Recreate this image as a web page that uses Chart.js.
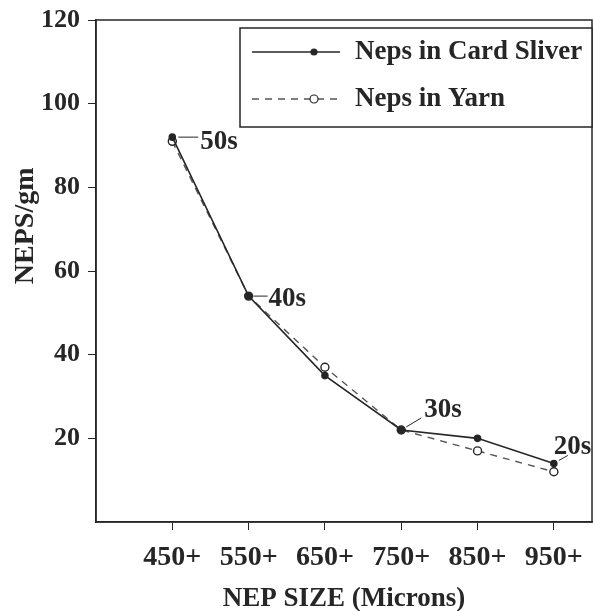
<!DOCTYPE html>
<html>
<head>
<meta charset="utf-8">
<script src="https://cdn.jsdelivr.net/npm/chart.js@4.4.1/dist/chart.umd.min.js"></script>
<style>
  html, body { margin: 0; padding: 0; background: #fff; }
  #wrap { width: 593px; height: 611px; position: relative; }
</style>
</head>
<body>
<div id="wrap"><canvas id="chart" width="593" height="611"></canvas></div>
<script>
  'use strict';

  // nep size classes (microns) and counts per gram
  const nepSizes = [450, 550, 650, 750, 850, 950];
  const cardSliver = [92, 54, 35, 22, 20, 14];
  const yarn = [91, 54, 37, 22, 17, 12];
  const countLabels = ['50s', '40s', null, '30s', null, '20s'];
  const yTicks = [20, 40, 60, 80, 100, 120];

  const INK = '#262626';
  const FONT = "'Liberation Serif', 'Times New Roman', serif";

  // frame round the plot area, plus the y title (sits above centre in the original)
  const framePlugin = {
    id: 'frame',
    afterDraw(chart) {
      const { ctx, chartArea: a } = chart;
      ctx.save();
      ctx.strokeStyle = INK;
      ctx.lineWidth = 1.5;
      ctx.strokeRect(a.left, a.top, a.right - a.left, a.bottom - a.top);
      ctx.translate(26, a.top + (a.bottom - a.top) * 0.41);
      ctx.rotate(-Math.PI / 2);
      ctx.font = 'bold 28px ' + FONT;
      ctx.fillStyle = INK;
      ctx.textAlign = 'center';
      ctx.textBaseline = 'middle';
      ctx.fillText('NEPS/gm', 0, 0);
      ctx.restore();
    }
  };

  // "50s", "40s" ... next to the card sliver points
  const countLabelPlugin = {
    id: 'countLabels',
    afterDatasetsDraw(chart) {
      const { ctx, scales: { x, y } } = chart;
      const offs = {
        '50s': { l: [[6, 0], [26, 0]], tx: 28, ty: 5 },
        '40s': { l: [[5, 0], [19, 0]], tx: 20, ty: 3 },
        '30s': { l: [[5, -3], [20, -12]], tx: 23, ty: -20 },
        '20s': { l: [[5, -3], [14, -8]], tx: 0, ty: -16 }
      };
      ctx.save();
      ctx.font = 'bold 27px ' + FONT;
      ctx.fillStyle = INK;
      ctx.strokeStyle = INK;
      ctx.lineWidth = 1;
      ctx.textBaseline = 'middle';
      ctx.textAlign = 'left';
      countLabels.forEach((lab, i) => {
        if (!lab) return;
        const px = x.getPixelForValue(nepSizes[i]);
        const py = y.getPixelForValue(cardSliver[i]);
        const o = offs[lab];
        ctx.beginPath();
        ctx.moveTo(px + o.l[0][0], py + o.l[0][1]);
        ctx.lineTo(px + o.l[1][0], py + o.l[1][1]);
        ctx.stroke();
        ctx.fillText(lab, px + o.tx, py + o.ty);
      });
      ctx.restore();
    }
  };

  // boxed legend inside the top right of the plot
  const legendPlugin = {
    id: 'boxLegend',
    afterDraw(chart) {
      const { ctx, chartArea: a } = chart;
      const left = a.left + 144, top = a.top + 8, right = a.right, bottom = a.top + 107;
      ctx.save();
      ctx.fillStyle = '#fff';
      ctx.fillRect(left, top, right - left, bottom - top);
      ctx.strokeStyle = INK;
      ctx.lineWidth = 1.5;
      ctx.strokeRect(left, top, right - left, bottom - top);
      ctx.font = 'bold 27px ' + FONT;
      ctx.textBaseline = 'middle';
      ctx.textAlign = 'left';
      chart.data.datasets.forEach((ds, i) => {
        const cy = top + 24 + i * 47;
        const x0 = left + 12, x1 = left + 100;
        ctx.strokeStyle = ds.borderColor;
        ctx.lineWidth = ds.borderWidth;
        ctx.setLineDash(ds.borderDash || []);
        ctx.beginPath();
        ctx.moveTo(x0, cy);
        ctx.lineTo(x1, cy);
        ctx.stroke();
        ctx.setLineDash([]);
        ctx.beginPath();
        ctx.arc((x0 + x1) / 2 + 18, cy, ds.pointRadius, 0, Math.PI * 2);
        ctx.fillStyle = ds.pointBackgroundColor;
        ctx.fill();
        ctx.strokeStyle = ds.pointBorderColor;
        ctx.lineWidth = 1.2;
        ctx.stroke();
        ctx.fillStyle = INK;
        ctx.fillText(ds.label, left + 115, cy);
      });
      ctx.restore();
    }
  };

  new Chart(document.getElementById('chart'), {
    type: 'line',
    data: {
      datasets: [
        {
          label: 'Neps in Card Sliver',
          data: nepSizes.map((s, i) => ({ x: s, y: cardSliver[i] })),
          borderColor: INK,
          borderWidth: 1.6,
          pointRadius: 3,
          pointBackgroundColor: INK,
          pointBorderColor: INK,
          tension: 0
        },
        {
          label: 'Neps in Yarn',
          data: nepSizes.map((s, i) => ({ x: s, y: yarn[i] })),
          borderColor: '#555',
          borderWidth: 1.4,
          borderDash: [7, 6],
          pointRadius: 4,
          pointBackgroundColor: '#fff',
          pointBorderColor: INK,
          tension: 0
        }
      ]
    },
    options: {
      responsive: false,
      animation: false,
      devicePixelRatio: 1,
      layout: { autoPadding: false, padding: { top: 20, right: 1, left: 0, bottom: 0 } },
      plugins: { legend: { display: false }, tooltip: { enabled: false } },
      scales: {
        x: {
          type: 'linear',
          min: 350,
          max: 1000,
          afterBuildTicks(scale) { scale.ticks = nepSizes.map(v => ({ value: v })); },
          afterFit(scale) {
            scale.height = 89;
            scale.paddingLeft = 0;
            scale.paddingRight = 0;
          },
          grid: { display: true, drawOnChartArea: false, drawTicks: true, tickLength: 8, color: INK },
          border: { display: true, color: INK, width: 1.5 },
          ticks: {
            color: INK,
            padding: 11,
            maxRotation: 0,
            font: { family: FONT, size: 28, weight: 'bold' },
            callback: v => v + '+'
          },
          title: {
            display: true,
            text: 'NEP SIZE (Microns)',
            color: INK,
            padding: { top: 4, bottom: 0 },
            font: { family: FONT, size: 27, weight: 'bold', lineHeight: 0.92 }
          }
        },
        y: {
          min: 0,
          max: 120,
          afterBuildTicks(scale) { scale.ticks = yTicks.map(v => ({ value: v })); },
          afterFit(scale) {
            scale.width = 96;
            scale.paddingTop = 0;
            scale.paddingBottom = 0;
          },
          grid: { display: true, drawOnChartArea: false, drawTicks: true, tickLength: 8, color: INK },
          border: { display: true, color: INK, width: 1.5 },
          ticks: {
            color: INK,
            padding: 8,
            font: { family: FONT, size: 26, weight: 'bold' }
          },
          title: { display: false }
        }
      }
    },
    plugins: [framePlugin, countLabelPlugin, legendPlugin]
  });
</script>
</body>
</html>
